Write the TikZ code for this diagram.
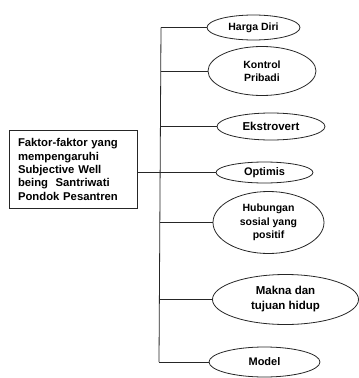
\documentclass[tikz,border=0pt]{standalone}
\usepackage{fontspec}
\setmainfont{Liberation Sans}
\usetikzlibrary{shapes.geometric}
\begin{document}
\begin{tikzpicture}[x=1pt,y=-1pt,
  line/.style={draw=black!85,line width=0.8pt},
  oval/.style={ellipse,line,inner sep=0pt,align=center,font=\bfseries\fontsize{10.5}{13.3}\selectfont},
  factbox/.style={rectangle,line,inner xsep=9pt,inner ysep=0pt,align=left,text width=110pt,minimum height=78pt,font=\bfseries\fontsize{11.3}{13.3}\selectfont}]
\useasboundingbox (0,0) rectangle (359,378);
\node[factbox] (box) at (73,169.5) {Faktor-faktor yang\\mempengaruhi\\ Subjective Well\\being\ \ Santriwati\\Pondok Pesantren};
\node[oval,minimum width=93pt,minimum height=25pt] (e1) at (253.5,27.5) {Harga Diri};
\node[oval,minimum width=108pt,minimum height=49pt] (e2) at (262,71) {Kontrol\\Pribadi};
\node[oval,minimum width=108pt,minimum height=27pt,font=\bfseries\fontsize{11.5}{13}\selectfont] (e3) at (271,126.5) {Ekstrovert};
\node[oval,minimum width=97pt,minimum height=21pt,font=\bfseries\fontsize{11}{13}\selectfont] (e4) at (264.5,172.5) {Optimis};
\node[oval,minimum width=111pt,minimum height=62pt] (e5) at (268.5,222.5) {Hubungan\\sosial yang\\positif};
\node[oval,minimum width=146pt,minimum height=50pt,font=\bfseries\fontsize{11.5}{15}\selectfont] (e6) at (285.5,299.5) {Makna dan\\tujuan hidup};
\node[oval,minimum width=111pt,minimum height=30pt,font=\bfseries\fontsize{11}{13}\selectfont] (e7) at (264.5,362) {Model};
\coordinate (st) at (161,27.5);
\coordinate (sb) at (159,362);
\draw[line] (st) -- (sb);
\draw[line] (st) -- (e1.west);
\draw[line] (160.5,71) -- (e2.west);
\draw[line] (160.3,126.5) -- (e3.west);
\draw[line] (box.east |- e4.west) -- (e4.west);
\draw[line] (159.7,222.5) -- (e5.west);
\draw[line] (159.4,299.5) -- (e6.west);
\draw[line] (sb) -- (e7.west);
\end{tikzpicture}
\end{document}
